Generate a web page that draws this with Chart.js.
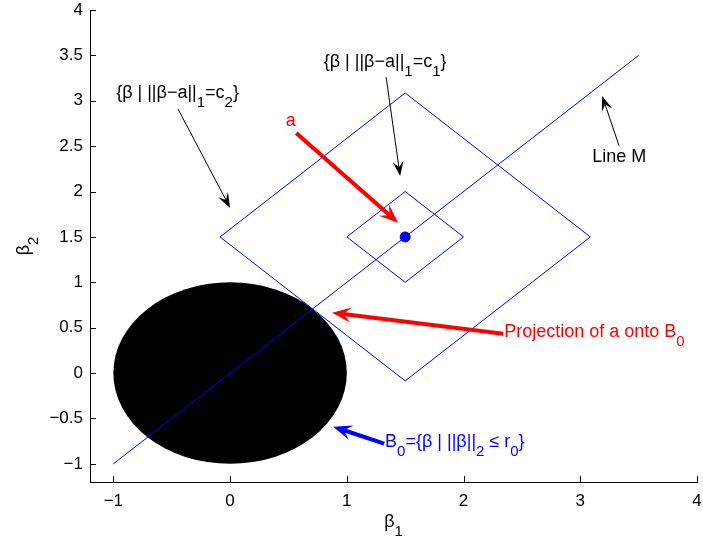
<!DOCTYPE html>
<html>
<head>
<meta charset="utf-8">
<script src="https://cdn.jsdelivr.net/npm/chart.js@4.4.0/dist/chart.umd.min.js"></script>
<style>
  html, body { margin: 0; padding: 0; background: #fff; }
  #wrap { width: 703px; height: 541px; }
</style>
</head>
<body>
<div id="wrap"><canvas id="projChart" width="703" height="541"></canvas></div>
<script>
//------------------------------ DATA ----------------------------------
const xTicks = [-1, 0, 1, 2, 3, 4];
const yTicks = [-1, -0.5, 0, 0.5, 1, 1.5, 2, 2.5, 3, 3.5, 4];

// Line M
const lineMX = [-1, 3.5];
const lineMY = [-1, 3.5];

// l1 balls round a
const smallDiamondX = [1.5, 2, 1.5, 1, 1.5];
const smallDiamondY = [2, 1.5, 1, 1.5, 2];
const bigDiamondX = [1.5, 3.086, 1.5, -0.086, 1.5];
const bigDiamondY = [3.086, 1.5, -0.086, 1.5, 3.086];

// point a
const pointAX = [1.5];
const pointAY = [1.5];

// B0 (l2 ball)
const ballCenter = [0, 0];
const ballRadius = 1;

// annotation arrows (data coords)
const arrowFromX = [-0.446, 1.337, 0.566, 2.339, 1.32, 3.333];
const arrowFromY = [2.91, 3.26, 2.646, 0.434, -0.777, 2.503];
const arrowToX = [0.0, 1.457, 1.44, 0.874, 0.883, 3.188];
const arrowToY = [1.82, 2.17, 1.656, 0.665, -0.59, 3.053];

// annotation texts, '_' = next char is subscript
const labelTexts = ['{β | ||β−a||_1=c_2}', '{β | ||β−a||_1=c_1}', 'a', 'Projection of a onto B_0', 'B_0={β | ||β||_2 ≤ r_0}', 'Line M'];
const labelX = [-0.45, 1.328, 0.52, 2.348, 1.328, 3.333];
const labelY = [3.09, 3.43, 2.778, 0.456, -0.755, 2.38];

//------------------------------ STYLE ----------------------------------
const FONT = "'Liberation Sans', Arial, Helvetica, sans-serif";
const MAIN_FONT = '18px ' + FONT;
const SUB_FONT = '15px ' + FONT;
const BLUE = '#0000ff';
const RED = '#ff0000';

const arrowStyle = [
    { color: '#000', lw: 1, len: 15, wid: 11 },
    { color: '#000', lw: 1, len: 15, wid: 11 },
    { color: RED, lw: 4, len: 19, wid: 15 },
    { color: RED, lw: 4, len: 19, wid: 15 },
    { color: BLUE, lw: 4, len: 19, wid: 15 },
    { color: '#000', lw: 1, len: 15, wid: 11 }
];
const labelStyle = [
    { color: '#000', align: 'center' },
    { color: '#000', align: 'center' },
    { color: RED, align: 'center' },
    { color: RED, align: 'left' },
    { color: BLUE, align: 'left' },
    { color: '#000', align: 'center' }
];

function toPoints(xs, ys) {
    return xs.map((x, i) => ({ x: x, y: ys[i] }));
}

// pecah teks jadi segmen biasa / subscript
function parseRich(str) {
    const segs = [];
    for (let i = 0; i < str.length; i++) {
        if (str[i] === '_' && i + 1 < str.length) {
            segs.push({ t: str[i + 1], sub: true });
            i++;
        } else if (segs.length && !segs[segs.length - 1].sub) {
            segs[segs.length - 1].t += str[i];
        } else {
            segs.push({ t: str[i], sub: false });
        }
    }
    return segs;
}

function drawRich(ctx, str, x, y, align, color) {
    const segs = parseRich(str);
    let w = 0;
    segs.forEach(s => {
        ctx.font = s.sub ? SUB_FONT : MAIN_FONT;
        s.w = ctx.measureText(s.t).width;
        w += s.w;
    });
    let cx = align === 'center' ? x - w / 2 : x;
    ctx.fillStyle = color;
    ctx.textAlign = 'left';
    ctx.textBaseline = 'middle';
    segs.forEach(s => {
        ctx.font = s.sub ? SUB_FONT : MAIN_FONT;
        ctx.fillText(s.t, cx, s.sub ? y + 10 : y);
        cx += s.w;
    });
}

function drawArrow(ctx, x0, y0, x1, y1, st) {
    const ang = Math.atan2(y1 - y0, x1 - x0);
    const ux = Math.cos(ang), uy = Math.sin(ang);
    const px = -uy, py = ux;
    const notch = st.len * 0.6;
    ctx.strokeStyle = st.color;
    ctx.fillStyle = st.color;
    ctx.lineWidth = st.lw;
    ctx.beginPath();
    ctx.moveTo(x0, y0);
    ctx.lineTo(x1 - ux * notch, y1 - uy * notch);
    ctx.stroke();
    const bx = x1 - ux * st.len, by = y1 - uy * st.len;
    ctx.beginPath();
    ctx.moveTo(x1, y1);
    ctx.lineTo(bx + px * st.wid / 2, by + py * st.wid / 2);
    ctx.lineTo(x1 - ux * notch, y1 - uy * notch);
    ctx.lineTo(bx - px * st.wid / 2, by - py * st.wid / 2);
    ctx.closePath();
    ctx.fill();
}

//------------------------------ PLUGINS ----------------------------------
// bola B0 + tick ke dalam (gaya MATLAB)
const backgroundPlugin = {
    id: 'backgroundPlugin',
    beforeDatasetsDraw(chart) {
        const { ctx, chartArea, scales: { x, y } } = chart;
        ctx.save();
        const cx = x.getPixelForValue(ballCenter[0]);
        const cy = y.getPixelForValue(ballCenter[1]);
        const rx = x.getPixelForValue(ballCenter[0] + ballRadius) - cx;
        const ry = cy - y.getPixelForValue(ballCenter[1] + ballRadius);
        ctx.fillStyle = '#000';
        ctx.beginPath();
        ctx.ellipse(cx, cy, rx, ry, 0, 0, Math.PI * 2);
        ctx.fill();

        ctx.strokeStyle = '#000';
        ctx.lineWidth = 1;
        ctx.beginPath();
        xTicks.forEach(v => {
            const px = Math.round(x.getPixelForValue(v)) + 0.5;
            ctx.moveTo(px, chartArea.bottom);
            ctx.lineTo(px, chartArea.bottom - 6);
        });
        yTicks.forEach(v => {
            const py = Math.round(y.getPixelForValue(v)) + 0.5;
            ctx.moveTo(chartArea.left, py);
            ctx.lineTo(chartArea.left + 6, py);
        });
        ctx.stroke();
        ctx.restore();
    }
};

// panah, teks anotasi, judul sumbu
const annotationPlugin = {
    id: 'annotationPlugin',
    afterDatasetsDraw(chart) {
        const { ctx, chartArea, scales: { x, y } } = chart;
        ctx.save();
        arrowFromX.forEach((v, i) => {
            drawArrow(ctx,
                x.getPixelForValue(v), y.getPixelForValue(arrowFromY[i]),
                x.getPixelForValue(arrowToX[i]), y.getPixelForValue(arrowToY[i]),
                arrowStyle[i]);
        });
        labelTexts.forEach((t, i) => {
            drawRich(ctx, t, x.getPixelForValue(labelX[i]), y.getPixelForValue(labelY[i]),
                labelStyle[i].align, labelStyle[i].color);
        });
        // axis titles
        drawRich(ctx, 'β_1', (chartArea.left + chartArea.right) / 2, chartArea.bottom + 40, 'center', '#000');
        ctx.translate(chartArea.left - 66, (chartArea.top + chartArea.bottom) / 2);
        ctx.rotate(-Math.PI / 2);
        drawRich(ctx, 'β_2', 0, 0, 'center', '#000');
        ctx.restore();
    }
};

//------------------------------ CHART ----------------------------------
function minusLabel(value) {
    return String(value).replace('-', '\u2212');
}

const ctxProj = document.getElementById('projChart').getContext('2d');
new Chart(ctxProj, {
    type: 'scatter',
    data: {
        datasets: [
            {
                label: 'Line M',
                data: toPoints(lineMX, lineMY),
                showLine: true,
                borderColor: BLUE,
                borderWidth: 1,
                pointRadius: 0
            },
            {
                label: 'c1',
                data: toPoints(smallDiamondX, smallDiamondY),
                showLine: true,
                borderColor: BLUE,
                borderWidth: 1,
                pointRadius: 0
            },
            {
                label: 'c2',
                data: toPoints(bigDiamondX, bigDiamondY),
                showLine: true,
                borderColor: BLUE,
                borderWidth: 1,
                pointRadius: 0
            },
            {
                label: 'a',
                data: toPoints(pointAX, pointAY),
                backgroundColor: BLUE,
                borderColor: BLUE,
                pointRadius: 5
            }
        ]
    },
    options: {
        responsive: false,
        animation: false,
        layout: { padding: { left: 0, top: 10, right: 6, bottom: 0 } },
        plugins: {
            legend: { display: false },
            tooltip: { enabled: false }
        },
        scales: {
            x: {
                type: 'linear',
                min: -1.2,
                max: 4,
                grid: { display: false, drawTicks: false },
                border: { display: true, color: '#000', width: 1 },
                ticks: {
                    color: '#000',
                    padding: 9,
                    maxRotation: 0,
                    font: { family: FONT, size: 17 },
                    callback: minusLabel
                },
                afterBuildTicks: scale => { scale.ticks = xTicks.map(v => ({ value: v })); },
                afterFit: scale => {
                    scale.height = 59;
                    scale.paddingLeft = 0; scale.paddingRight = 0;
                    scale.paddingTop = 0; scale.paddingBottom = 0;
                }
            },
            y: {
                type: 'linear',
                min: -1.2,
                max: 4,
                grid: { display: false, drawTicks: false },
                border: { display: true, color: '#000', width: 1 },
                ticks: {
                    color: '#000',
                    padding: 7,
                    font: { family: FONT, size: 17 },
                    callback: minusLabel
                },
                afterBuildTicks: scale => { scale.ticks = yTicks.map(v => ({ value: v })); },
                afterFit: scale => {
                    scale.width = 90;
                    scale.paddingLeft = 0; scale.paddingRight = 0;
                    scale.paddingTop = 0; scale.paddingBottom = 0;
                }
            }
        }
    },
    plugins: [backgroundPlugin, annotationPlugin]
});
</script>
</body>
</html>
